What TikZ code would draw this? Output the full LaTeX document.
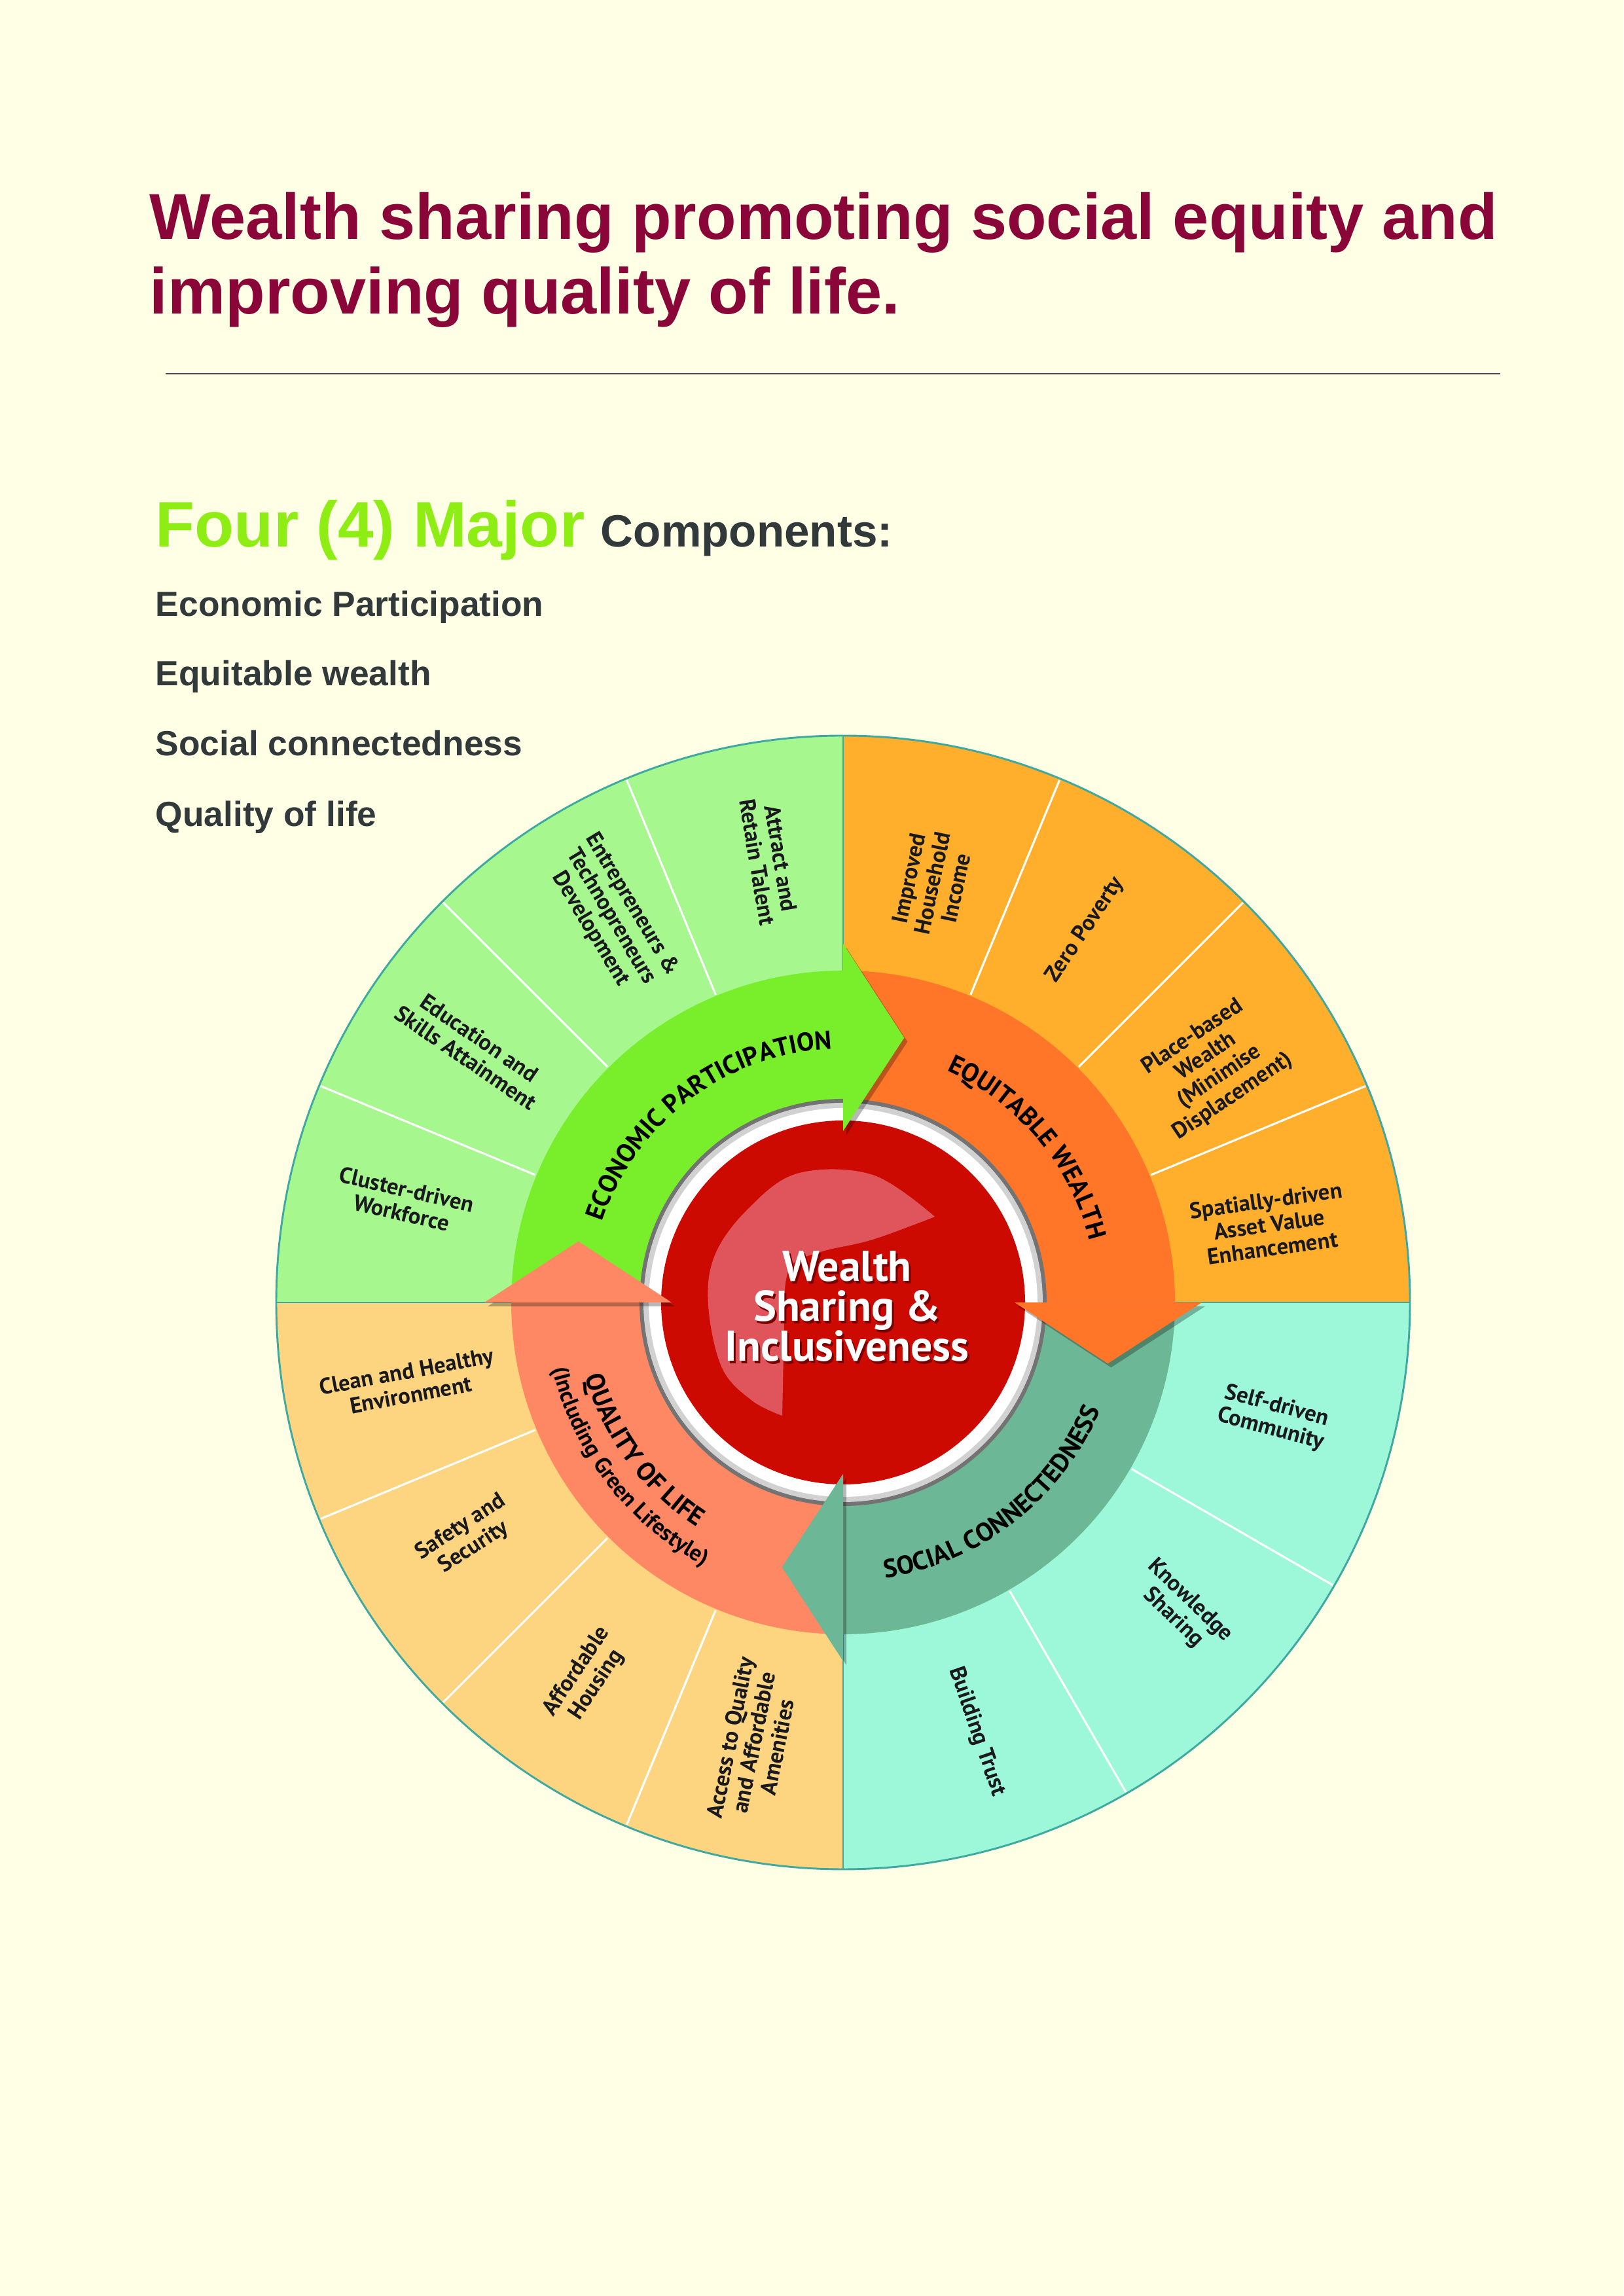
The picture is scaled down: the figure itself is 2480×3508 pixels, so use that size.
\documentclass[tikz,border=0pt]{standalone}
\usepackage{fontspec}
\setmainfont{Liberation Sans}
\newfontfamily\wheelfont{PT Sans}
\usetikzlibrary{decorations.text}

\definecolor{paper}{RGB}{255,255,230}
\definecolor{titlered}{RGB}{139,6,56}
\definecolor{lime}{RGB}{142,238,20}
\definecolor{inkgray}{RGB}{50,57,58}
\definecolor{rulecol}{RGB}{90,70,90}
\definecolor{segGreen}{RGB}{166,247,142}
\definecolor{segOrange}{RGB}{255,175,43}
\definecolor{segAqua}{RGB}{156,248,217}
\definecolor{segPeach}{RGB}{253,213,128}
\definecolor{arrGreen}{RGB}{121,238,42}
\definecolor{arrOrange}{RGB}{255,118,40}
\definecolor{arrTeal}{RGB}{108,183,149}
\definecolor{arrSalmon}{RGB}{255,136,100}
\definecolor{hubRed}{RGB}{204,10,2}
\definecolor{hubGlow}{RGB}{224,84,92}
\definecolor{hubShade}{RGB}{120,0,0}
\definecolor{rimTeal}{RGB}{63,169,160}
\definecolor{labelInk}{RGB}{25,25,30}

\newcommand\arcfnt{\wheelfont\bfseries\fontsize{9.5}{9.5}\selectfont}
\newcommand\arcsmall{\wheelfont\bfseries\fontsize{8.3}{8.3}\selectfont}

\tikzset{
  seglabel/.style={font=\wheelfont\bfseries\fontsize{8.3}{8.8}\selectfont,
                   text=labelInk, align=center, inner sep=0pt},
  divider/.style={white, line width=0.75pt},
  seam/.style={rimTeal, line width=0.6pt},
  headtxt/.style={anchor=base west, inner sep=0pt},
  listitem/.style={headtxt, text=inkgray,
                   font=\bfseries\fontsize{12.8}{12.8}\selectfont},
  hubtxt/.style={align=center, inner sep=0pt,
                 font=\wheelfont\bfseries\fontsize{15.8}{14.6}\selectfont},
  curved/.style={decorate, decoration={text along path, text align=center, text={#1}}}
}

\begin{document}
\begin{tikzpicture}[x=0.24pt, y=0.24pt]
  \fill[paper] (0,0) rectangle (2480,3508);
  \useasboundingbox (0,0) rectangle (2480,3508);

  % headline
  \node[headtxt, text=titlered, font=\bfseries\fontsize{23.8}{23.8}\selectfont]
    (title1) at (228,3142) {Wealth sharing promoting social equity and};
  \node[headtxt, text=titlered, font=\bfseries\fontsize{23.8}{23.8}\selectfont]
    (title2) at (228,3028) {improving quality of life.};
  \draw[rulecol, line width=0.5pt] (253,2937) -- (2292,2937);

  % component list
  \node[headtxt, text=lime, font=\bfseries\fontsize{23.6}{23.6}\selectfont]
    (four) at (237,2672) {Four (4) Major};
  \node[headtxt, text=inkgray, font=\bfseries\fontsize{16.6}{16.6}\selectfont]
    (comp) at (917,2672) {Components:};
  \node[listitem] (li1) at (237,2566) {Economic Participation};
  \node[listitem] (li2) at (237,2460) {Equitable wealth};
  \node[listitem] (li3) at (237,2353) {Social connectedness};
  \node[listitem] (li4) at (237,2245) {Quality of life};

  % the wheel
  \begin{scope}[shift={(1288,1518)}]
    % outer ring quadrants
    \fill[segGreen]  (0,0) -- (90:866) arc[start angle=90, end angle=180, radius=866] -- cycle;
    \fill[segOrange] (0,0) -- (0:866) arc[start angle=0, end angle=90, radius=866] -- cycle;
    \fill[segAqua]   (0,0) -- (-90:866) arc[start angle=-90, end angle=0, radius=866] -- cycle;
    \fill[segPeach]  (0,0) -- (180:866) arc[start angle=180, end angle=270, radius=866] -- cycle;

    % white dividers between topics
    \foreach \a in {112.5,135,157.5, 22.5,45,67.5, -30,-60, 202.5,225,247.5}
      \draw[divider] (\a:509) -- (\a:864);
    % quadrant seams and rim
    \foreach \a in {0,90,180,270}
      \draw[seam] (\a:505) -- (\a:866);
    \draw[rimTeal, line width=0.7pt] (0,0) circle[radius=866];

    % arrow bands (each runs a little under its own head)
    \fill[arrGreen]  (180:300) arc[start angle=180, end angle=89.5, radius=300]
                     -- (89.5:507) arc[start angle=89.5, end angle=180, radius=507] -- cycle;
    \fill[arrOrange] (90:300) arc[start angle=90, end angle=-0.5, radius=300]
                     -- (-0.5:507) arc[start angle=-0.5, end angle=90, radius=507] -- cycle;
    \fill[arrTeal]   (0:300) arc[start angle=0, end angle=-90.5, radius=300]
                     -- (-90.5:507) arc[start angle=-90.5, end angle=0, radius=507] -- cycle;
    \fill[arrSalmon] (270:300) arc[start angle=270, end angle=179.5, radius=300]
                     -- (179.5:507) arc[start angle=179.5, end angle=270, radius=507] -- cycle;

    % hub
    \fill[black!55] (0,0) circle[radius=311];
    \fill[black!18] (0,0) circle[radius=305];
    \fill[white] (0,0) circle[radius=297];
    \fill[hubRed] (0,0) circle[radius=278];
    \fill[hubGlow] plot[smooth, tension=0.6] coordinates
        {(140,131) (45,195) (-70,197) (-147,141) (-196,72) (-206,-4)
         (-185,-100) (-139,-150) (-93,-173)}
      -- plot[smooth, tension=0.6] coordinates
        {(-89,20) (-78,58) (-32,78) (45,96) (140,131)} -- cycle;

    % arrow heads with soft shadow
    \foreach \a/\c in {90/arrGreen, 0/arrOrange, -90/arrTeal, 180/arrSalmon} {
      \fill[black, opacity=0.28, shift={(5,-6)}]
        (\a:262) -- (\a:548) -- ({\a-13}:415) -- cycle;
      \fill[\c] (\a:262) -- (\a:548) -- ({\a-13}:415) -- cycle;
    }

    % hub title
    \node[hubtxt, text=hubShade] (hubshadow) at (9,-10) {Wealth\\Sharing \&\\Inclusiveness};
    \node[hubtxt, text=white] (hubtitle) at (6,-6) {Wealth\\Sharing \&\\Inclusiveness};

    % curved arrow titles
    \path[curved={|\arcfnt|ECONOMIC PARTICIPATION}]
      (170:388) arc[start angle=170, end angle=84, radius=388];
    \path[curved={|\arcfnt|EQUITABLE WEALTH}]
      (82:388) arc[start angle=82, end angle=-2, radius=388];
    \path[curved={|\arcfnt|SOCIAL CONNECTEDNESS}]
      (-96:426) arc[start angle=-96, end angle=-8, radius=426];
    \path[curved={|\arcfnt|QUALITY OF LIFE}]
      (176:410) arc[start angle=176, end angle=257, radius=410];
    \path[curved={|\arcsmall|(Including Green Lifestyle)}]
      (177:455) arc[start angle=177, end angle=258, radius=455];

    % topic labels
    \node[seglabel, rotate=-80.5]  (t1)  at (99.5:685) {Attract and\\Retain Talent};
    \node[seglabel, rotate=-59]    (t2)  at (121:688) {Entrepreneurs \&\\Technopreneurs\\Development};
    \node[seglabel, rotate=-34.5]  (t3)  at (145.5:687) {Education and\\Skills Attainment};
    \node[seglabel, rotate=-13]    (t4)  at (167:688) {Cluster-driven\\Workforce};
    \node[seglabel, rotate=78]     (t5)  at (78:655) {Improved\\Household\\Income};
    \node[seglabel, rotate=56]     (t6)  at (57:679) {Zero Poverty};
    \node[seglabel, rotate=34]     (t7)  at (32.5:670) {Place-based\\Wealth\\(Minimise\\Displacement)};
    \node[seglabel, rotate=8]      (t8)  at (10.4:662) {Spatially-driven\\Asset Value\\Enhancement};
    \node[seglabel, rotate=-15]    (t9)  at (-15:681) {Self-driven\\Community};
    \node[seglabel, rotate=-44]    (t10) at (-42.2:698) {Knowledge\\Sharing};
    \node[seglabel, rotate=-71]    (t11) at (-72.7:687) {Building Trust};
    \node[seglabel, rotate=10.5]   (t12) at (190.5:675) {Clean and Healthy\\Environment};
    \node[seglabel, rotate=33]     (t13) at (212:677) {Safety and\\Security};
    \node[seglabel, rotate=56.25]  (t14) at (235.7:695) {Affordable\\Housing};
    \node[seglabel, rotate=78.5]   (t15) at (258.5:686) {Access to Quality\\and Affordable\\Amenities};
  \end{scope}
\end{tikzpicture}
\end{document}
